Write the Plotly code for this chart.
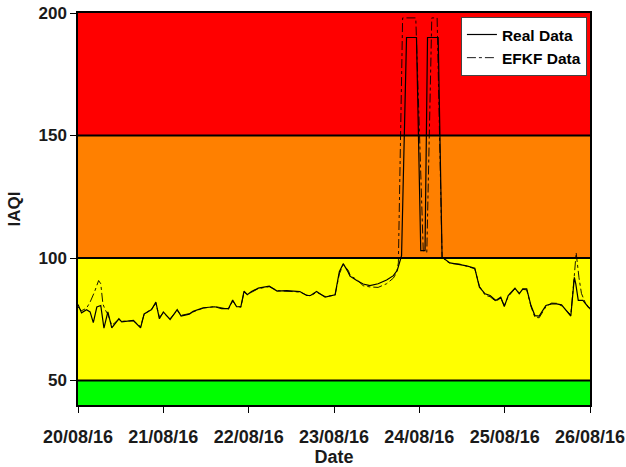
import pandas as pd
import plotly.graph_objects as go

# Hours since 20/08/16 00:00 and IAQI values for each series
real_hours = [0, 1, 2.4, 3.4, 4.3, 5.3, 6.4, 7.3, 8.4, 9.5, 11.5, 12.3, 15.6, 17.6, 18.6,
              20.7, 21.9, 22.9, 24, 25.9, 27.9, 29, 31.3, 32.4, 35.2, 38.5, 40.4, 42.3,
              43.5, 44.6, 45.8, 46.7, 47.6, 48.8, 50.7, 53.8, 56, 58.7, 62.4, 64.3, 65.4,
              67.1, 69.5, 72.3, 73.5, 74.6, 76, 76.5, 78.4, 80.2, 82.1, 84.4, 86.8, 88.7,
              89.8, 90.6, 91, 92.4, 95.2, 96.4, 97.6, 98.3, 101.3, 102.4, 103.7, 104.6,
              107.4, 109.3, 111.6, 112.9, 114.5, 115.9, 117.5, 118.9, 119.9, 121, 122.9,
              124.1, 125.1, 126.2, 127.4, 128.5, 129.7, 131.6, 133.2, 134.6, 136, 137.2,
              138.6, 139.6, 140, 140.7, 142, 143.5, 144]
real_iaqi = [81, 77.6, 78.9, 78, 73.6, 80, 80.6, 71.4, 78, 71.5, 75.2, 73.9, 74.5, 71.5, 77.2,
             79, 82, 75.2, 78, 74.9, 78.9, 76.3, 77.1, 78.2, 79.7, 80.1, 79.3, 79.3,
             82.8, 80.1, 80.1, 86.5, 85, 86.3, 87.7, 88.5, 86.5, 86.7, 86.3, 84.7, 84.7,
             86.3, 84, 85, 94.4, 97.7, 94.2, 92.6, 90.8, 89.4, 88.7, 89.5, 91, 92.8,
             95, 98.5, 101, 190, 190, 103, 103, 190, 190, 100.3, 98.9, 98,
             97.3, 96.8, 95.8, 88.1, 85.4, 84.7, 82.7, 84, 80.2, 84.7, 87.7,
             85.4, 87.4, 87.4, 80.6, 76.5, 76.3, 80.6, 81.3, 81.3, 80.9, 78.6,
             76.3, 92.1, 89.4, 82.7, 82.7, 80, 79.5]

efkf_hours = [0, 1, 2.4, 3.4, 4.6, 5.8, 6.4, 7.0, 7.6, 8.4, 9.5, 11.5, 12.3, 15.6, 17.6, 18.6,
              20.7, 21.9, 22.9, 24, 25.9, 27.9, 29, 31.3, 32.4, 35.2, 38.5, 40.4, 42.3,
              43.5, 44.6, 45.8, 46.7, 47.6, 48.8, 50.7, 53.8, 56, 58.7, 62.4, 64.3, 65.4,
              67.1, 69.5, 72.3, 73.5, 74.6, 76, 76.6, 78.4, 80.2, 82.1, 84.4, 86.8, 88.7,
              89.6, 90.1, 91.3, 95.0, 97.1, 98.1, 99.5, 101.0, 102.4, 103.7, 104.6,
              107.4, 109.3, 111.6, 112.9, 114.5, 115.9, 117.5, 118.9, 119.9, 121, 122.9,
              124.1, 125.1, 126.2, 127.4, 128.5, 129.7, 131.6, 133.2, 134.6, 136, 137.2,
              138.6, 139.6, 140.1, 140.9, 141.6, 142.6, 143.4, 144]
efkf_iaqi = [80, 78.5, 79.5, 82, 86, 90.8, 89.5, 81.3, 79, 77, 72.5, 75, 74.2, 74.3, 72, 77,
             79.2, 81.5, 75.8, 77.6, 75.2, 78.6, 76.6, 77.3, 78, 79.5, 80.2, 79.5, 79.1,
             82.4, 80.4, 79.9, 86, 85.3, 86, 87.5, 88.3, 86.7, 86.5, 86.1, 84.9, 84.5,
             86, 84.3, 84.8, 93.5, 97.3, 95, 92.8, 91.2, 88.7, 88.2, 88, 89.5, 91.8,
             94, 98, 198, 198, 103, 102.3, 198, 198, 100.3, 98.7, 97.8,
             97.5, 96.5, 95.6, 88.5, 84.8, 84.2, 82.3, 83.6, 80.6, 84.3, 87.4,
             85.8, 87.2, 87, 80.2, 75.8, 75.6, 80.1, 81.6, 81.5, 80.5, 78.9,
             76.8, 93, 102.2, 92, 85.5, 82, 80.3, 79]

# IAQI category bands: edges and fill colours
band_edges = [40, 50, 100, 150, 200]
band_colours = ["#00FF00", "#FFFF00", "#FF8000", "#FF0000"]
y_ticks = [50, 100, 150, 200]

start = pd.Timestamp("2016-08-20")
end = pd.Timestamp("2016-08-26")
real_x = start + pd.to_timedelta(real_hours, unit="h")
efkf_x = start + pd.to_timedelta(efkf_hours, unit="h")

FONT = "Liberation Sans, Arial, Helvetica, sans-serif"
TXT = "#1a1a1a"

fig = go.Figure()
fig.add_trace(go.Scatter(x=real_x, y=real_iaqi, mode="lines", name="Real Data",
                         line=dict(color="black", width=1.2)))
fig.add_trace(go.Scatter(x=efkf_x, y=efkf_iaqi, mode="lines", name="EFKF Data",
                         line=dict(color="black", width=0.9, dash="dashdot")))

shapes = []
for lo, hi, col in zip(band_edges[:-1], band_edges[1:], band_colours):
    shapes.append(dict(type="rect", xref="x", yref="y", x0=start, x1=end, y0=lo, y1=hi,
                       fillcolor=col, line=dict(width=0), layer="below"))
for yv in band_edges[1:-1]:
    shapes.append(dict(type="line", xref="x", yref="y", x0=start, x1=end, y0=yv, y1=yv,
                       line=dict(color="black", width=2), layer="below"))

fig.update_layout(
    width=626, height=467,
    margin=dict(l=78, r=36, t=13, b=62, autoexpand=False),
    paper_bgcolor="white", plot_bgcolor="white",
    shapes=shapes,
    font=dict(family=FONT, color=TXT, size=16),
    showlegend=True,
    legend=dict(x=0.994, y=0.99, xanchor="right", yanchor="top",
                bgcolor="white", bordercolor="#444", borderwidth=1,
                font=dict(family=FONT, size=15.5, color="black", weight="bold"),
                tracegroupgap=0, itemwidth=30),
)
fig.update_xaxes(
    type="date", range=[start, end], dtick=86400000, tick0=start,
    tickformat="%d/%m/%y", ticks="outside", ticklen=6, tickcolor="black",
    ticklabelstandoff=9,
    showline=True, linecolor="black", linewidth=1.5, mirror=True, showgrid=False,
    zeroline=False, automargin=False,
    tickfont=dict(family=FONT, size=18, color=TXT, weight="bold"),
    title=dict(text="Date", font=dict(family=FONT, size=18, color=TXT, weight="bold"),
               standoff=4),
)
fig.update_yaxes(
    range=[40, 200], tickvals=y_ticks, ticks="outside", ticklen=6, tickcolor="black",
    showline=True, linecolor="black", linewidth=1.5, mirror=True, showgrid=False,
    zeroline=False, automargin=False,
    tickfont=dict(family=FONT, size=17, color=TXT, weight="bold"),
    title=dict(text="IAQI", font=dict(family=FONT, size=17, color=TXT, weight="bold"),
               standoff=14),
)

fig.write_html("out.html")
